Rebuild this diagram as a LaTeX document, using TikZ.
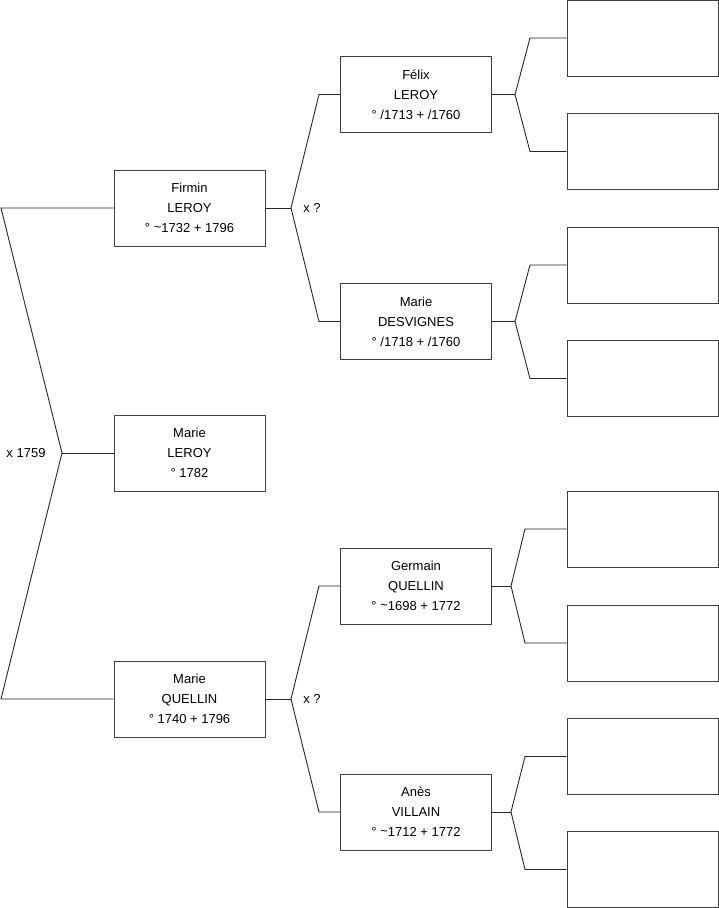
\documentclass[tikz,border=0pt]{standalone}
\usepackage{fontspec}
\setmainfont{Liberation Sans}
\usepackage{tikz}

\begin{document}
\begin{tikzpicture}[x=1pt,y=-1pt,
  person/.style={draw=black!75,line width=0.9pt,fill=white,minimum width=151pt,minimum height=76pt,inner sep=0pt,align=center,font=\fontsize{13}{20}\selectfont},
  link/.style={draw=black!85,line width=0.9pt},
  note/.style={inner sep=0pt,font=\fontsize{13}{16}\selectfont}]
  \useasboundingbox (0,0) rectangle (719,908);
  % generation 1 and 2
  \node[person] (firmin) at (189.5,208) {Firmin\\LEROY\\° \raisebox{0.15ex}{\textasciitilde}1732 + 1796};
  \node[person] (marie) at (189.5,453) {Marie\\LEROY\\° 1782};
  \node[person] (quellin) at (189.5,699) {Marie\\QUELLIN\\° 1740 + 1796};
  % generation 3
  \node[person] (felix) at (416,94.5) {Félix\\LEROY\\° /1713 + /1760};
  \node[person] (desvignes) at (416,321.5) {Marie\\DESVIGNES\\° /1718 + /1760};
  \node[person] (germain) at (416,586) {Germain\\QUELLIN\\° \raisebox{0.15ex}{\textasciitilde}1698 + 1772};
  \node[person] (anes) at (416,812) {Anès\\VILLAIN\\° \raisebox{0.15ex}{\textasciitilde}1712 + 1772};
  % generation 4 (empty)
  \node[person] (g1) at (642.5,38) {};
  \node[person] (g2) at (642.5,151.5) {};
  \node[person] (g3) at (642.5,265) {};
  \node[person] (g4) at (642.5,378.5) {};
  \node[person] (g5) at (642.5,529) {};
  \node[person] (g6) at (642.5,643) {};
  \node[person] (g7) at (642.5,756.5) {};
  \node[person] (g8) at (642.5,869.5) {};
  % marriage labels
  \node[note] (mLeft) at (26,453) {x 1759};
  \node[note] (mFirmin) at (312,208) {x ?};
  \node[note] (mQuellin) at (312,699) {x ?};
  % fork points
  \coordinate (mTop) at (1,208);
  \coordinate (mJoin) at (62,453);
  \coordinate (mBot) at (1,699);
  \coordinate (fJoin) at (291,208);
  \coordinate (fUp) at (319,94.5);
  \coordinate (fDn) at (319,321.5);
  \coordinate (qJoin) at (291,699);
  \coordinate (qUp) at (319,586);
  \coordinate (qDn) at (319,812);
  \coordinate (aJoin) at (515,94.5);
  \coordinate (aUp) at (530,38);
  \coordinate (aDn) at (530,151.5);
  \coordinate (bJoin) at (515,321.5);
  \coordinate (bUp) at (530,265);
  \coordinate (bDn) at (530,378.5);
  \coordinate (cJoin) at (511,586);
  \coordinate (cUp) at (525,529);
  \coordinate (cDn) at (525,643);
  \coordinate (dJoin) at (511,812);
  \coordinate (dUp) at (525,756.5);
  \coordinate (dDn) at (525,869.5);
  % connectors
  \draw[link] (firmin.west) -- (mTop) -- (mJoin) -- (mBot) -- (quellin.west);
  \draw[link] (mJoin) -- (marie.west);
  \draw[link] (firmin.east) -- (fJoin);
  \draw[link] (felix.west) -- (fUp) -- (fJoin) -- (fDn) -- (desvignes.west);
  \draw[link] (quellin.east) -- (qJoin);
  \draw[link] (germain.west) -- (qUp) -- (qJoin) -- (qDn) -- (anes.west);
  \draw[link] (felix.east) -- (aJoin);
  \draw[link] (g1.west) -- (aUp) -- (aJoin) -- (aDn) -- (g2.west);
  \draw[link] (desvignes.east) -- (bJoin);
  \draw[link] (g3.west) -- (bUp) -- (bJoin) -- (bDn) -- (g4.west);
  \draw[link] (germain.east) -- (cJoin);
  \draw[link] (g5.west) -- (cUp) -- (cJoin) -- (cDn) -- (g6.west);
  \draw[link] (anes.east) -- (dJoin);
  \draw[link] (g7.west) -- (dUp) -- (dJoin) -- (dDn) -- (g8.west);
\end{tikzpicture}
\end{document}
